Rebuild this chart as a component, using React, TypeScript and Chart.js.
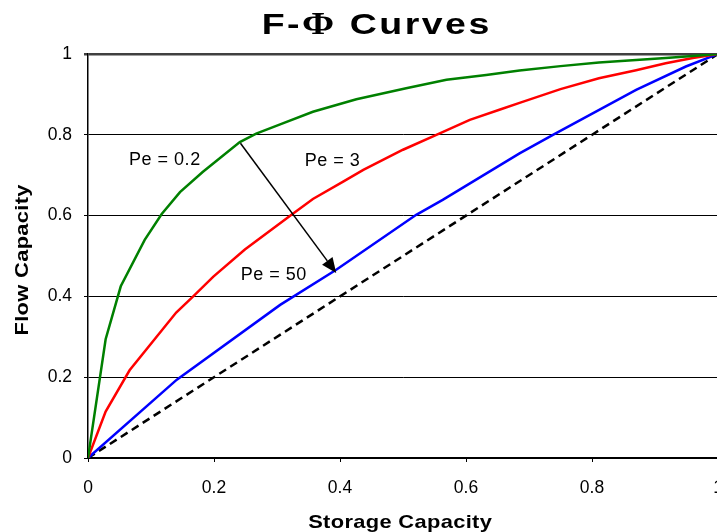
import React, { useEffect, useRef } from "react";
import { Chart, registerables } from "chart.js";
Chart.register(...registerables);

// ---- texts ----
const TITLE_PARTS = ["F-", "Φ", " Curves"];
const X_TITLE = "Storage Capacity";
const Y_TITLE = "Flow Capacity";
const TICK_VALUES = [0, 0.2, 0.4, 0.6, 0.8, 1];
const TICK_LABELS = ["0", "0.2", "0.4", "0.6", "0.8", "1"];

// ---- series (Storage capacity x, Flow capacity y) ----
const pe02X = [0, 0.028, 0.052, 0.09, 0.117, 0.146, 0.182, 0.241, 0.267, 0.305, 0.357, 0.426, 0.505, 0.569, 0.632, 0.685, 0.75, 0.811, 0.87, 0.917, 0.96, 1];
const pe02Y = [0, 0.294, 0.425, 0.54, 0.604, 0.658, 0.708, 0.782, 0.803, 0.826, 0.857, 0.888, 0.915, 0.936, 0.948, 0.959, 0.97, 0.979, 0.985, 0.99, 0.995, 1];

const pe3X = [0, 0.028, 0.066, 0.14, 0.167, 0.199, 0.249, 0.323, 0.357, 0.405, 0.437, 0.5, 0.553, 0.606, 0.653, 0.685, 0.75, 0.811, 0.87, 0.917, 0.96, 1];
const pe3Y = [0, 0.115, 0.217, 0.36, 0.4, 0.449, 0.516, 0.602, 0.641, 0.684, 0.713, 0.763, 0.8, 0.837, 0.862, 0.879, 0.913, 0.94, 0.96, 0.977, 0.99, 1];

const pe50X = [0, 0.141, 0.305, 0.394, 0.521, 0.563, 0.685, 0.738, 0.87, 0.949, 1];
const pe50Y = [0, 0.194, 0.379, 0.466, 0.602, 0.639, 0.754, 0.8, 0.911, 0.969, 1];

const refX = [0, 1];
const refY = [0, 1];

// ---- annotations (data units) ----
const LABEL_TEXTS = ["Pe = 0.2", "Pe = 3", "Pe = 50"];
const LABEL_X = [0.122, 0.388, 0.295];
const LABEL_Y = [0.738, 0.736, 0.453];
const ARROW_FROM = [0.242, 0.779];
const ARROW_TO = [0.394, 0.458];

const SANS = "'Liberation Sans', Arial, sans-serif";
const SERIF = "'Liberation Serif', 'Times New Roman', serif";

const toXY = (xs: number[], ys: number[]) => xs.map((x, i) => ({ x, y: ys[i] }));

const decorPlugin = {
  id: "decor",
  afterDatasetsDraw(chart: any) {
    const { ctx, scales } = chart;
    const xs = scales.x;
    const ys = scales.y;
    ctx.save();
    // arrow
    const x0 = xs.getPixelForValue(ARROW_FROM[0]);
    const y0 = ys.getPixelForValue(ARROW_FROM[1]);
    const x1 = xs.getPixelForValue(ARROW_TO[0]);
    const y1 = ys.getPixelForValue(ARROW_TO[1]);
    const ang = Math.atan2(y1 - y0, x1 - x0);
    const headLen = 15;
    const headHalf = 6.5;
    const bx = x1 - headLen * Math.cos(ang);
    const by = y1 - headLen * Math.sin(ang);
    ctx.strokeStyle = "#000";
    ctx.lineWidth = 1.5;
    ctx.beginPath();
    ctx.moveTo(x0, y0);
    ctx.lineTo(bx, by);
    ctx.stroke();
    ctx.fillStyle = "#000";
    ctx.beginPath();
    ctx.moveTo(x1, y1);
    ctx.lineTo(bx + headHalf * Math.sin(ang), by - headHalf * Math.cos(ang));
    ctx.lineTo(bx - headHalf * Math.sin(ang), by + headHalf * Math.cos(ang));
    ctx.closePath();
    ctx.fill();

    // labels
    ctx.font = `18px ${SANS}`;
    (ctx as any).letterSpacing = "0.5px";
    ctx.textAlign = "center";
    ctx.textBaseline = "middle";
    LABEL_TEXTS.forEach((t, i) => {
      ctx.fillText(t, xs.getPixelForValue(LABEL_X[i]), ys.getPixelForValue(LABEL_Y[i]));
    });
    ctx.restore();
  },
  afterDraw(chart: any) {
    const { ctx } = chart;
    ctx.save();
    ctx.fillStyle = "#000";
    ctx.textBaseline = "alphabetic";
    ctx.textAlign = "left";

    // main title, mixed fonts
    const tFonts = [`bold 30px ${SANS}`, `bold 31px ${SERIF}`, `bold 30px ${SANS}`];
    const sp = 2;
    const sx = 1.25;
    (ctx as any).letterSpacing = `${sp}px`;
    const widths = TITLE_PARTS.map((p, i) => {
      ctx.font = tFonts[i];
      return ctx.measureText(p).width;
    });
    const total = widths.reduce((a, b) => a + b, 0) - sp;
    ctx.save();
    ctx.translate(375.5, 34);
    ctx.scale(sx, 1);
    let x = -total / 2;
    TITLE_PARTS.forEach((p, i) => {
      ctx.font = tFonts[i];
      ctx.fillText(p, x, 0);
      x += widths[i];
    });
    ctx.restore();

    // axis titles
    ctx.font = `bold 19px ${SANS}`;
    const asp = 0.3;
    const asx = 1.15;
    (ctx as any).letterSpacing = `${asp}px`;
    const wX = ctx.measureText(X_TITLE).width - asp;
    ctx.save();
    ctx.translate(400, 528);
    ctx.scale(asx, 1);
    ctx.fillText(X_TITLE, -wX / 2, 0);
    ctx.restore();

    const wY = ctx.measureText(Y_TITLE).width - asp;
    ctx.save();
    ctx.translate(28, 260);
    ctx.rotate(-Math.PI / 2);
    ctx.scale(asx, 1);
    ctx.fillText(Y_TITLE, -wY / 2, 0);
    ctx.restore();

    ctx.restore();
  },
};

export default function App() {
  const ref = useRef<HTMLCanvasElement | null>(null);
  useEffect(() => {
    if (!ref.current) return;
    const chart = new Chart(ref.current, {
      type: "line",
      data: {
        datasets: [
          { label: "Pe = 0.2", data: toXY(pe02X, pe02Y), borderColor: "#008000", borderWidth: 2.5, pointRadius: 0, fill: false, tension: 0 },
          { label: "Pe = 3", data: toXY(pe3X, pe3Y), borderColor: "#ff0000", borderWidth: 2.5, pointRadius: 0, fill: false, tension: 0 },
          { label: "Pe = 50", data: toXY(pe50X, pe50Y), borderColor: "#0000ff", borderWidth: 2.5, pointRadius: 0, fill: false, tension: 0 },
          { label: "Reference", data: toXY(refX, refY), borderColor: "#000000", borderWidth: 2.5, borderDash: [8, 5], pointRadius: 0, fill: false, tension: 0 },
        ],
      },
      options: {
        animation: false,
        responsive: false,
        devicePixelRatio: 1,
        layout: { padding: { top: 54, right: 42, bottom: 0, left: 0 } },
        plugins: { legend: { display: false }, tooltip: { enabled: false }, title: { display: false } },
        scales: {
          x: {
            type: "linear",
            min: 0,
            max: 1,
            afterFit: (s: any) => { s.height = 74; },
            afterBuildTicks: (s: any) => { s.ticks = TICK_VALUES.map((v) => ({ value: v })); },
            ticks: {
              color: "#000",
              padding: 16,
              maxRotation: 0,
              font: { family: SANS, size: 17.5 },
              callback: (v: any) => TICK_LABELS[TICK_VALUES.indexOf(Number(v))] ?? "",
            },
            grid: { drawOnChartArea: false, drawTicks: true, tickLength: 4, color: "#000", lineWidth: 1 },
            border: { color: "#000", width: 2 },
          },
          y: {
            type: "linear",
            min: 0,
            max: 1,
            afterFit: (s: any) => { s.width = 88; },
            afterBuildTicks: (s: any) => { s.ticks = TICK_VALUES.map((v) => ({ value: v })); },
            ticks: {
              color: "#000",
              padding: 12,
              font: { family: SANS, size: 17.5 },
              callback: (v: any) => TICK_LABELS[TICK_VALUES.indexOf(Number(v))] ?? "",
            },
            grid: {
              drawTicks: true,
              tickLength: 4,
              color: (c: any) => (c.tick && c.tick.value === 1 ? "#404040" : "#000"),
              lineWidth: (c: any) => (c.tick && c.tick.value === 1 ? 2.5 : 1),
            },
            border: { color: "#000", width: 1.5 },
          },
        },
      },
      plugins: [decorPlugin],
    } as any);
    return () => chart.destroy();
  }, []);

  return (
    <div style={{ position: "fixed", left: 0, top: 0, width: 717, height: 532, overflow: "hidden", background: "#fff" }}>
      <canvas ref={ref} width={760} height={532} style={{ display: "block", position: "absolute", left: 0, top: 0 }} />
    </div>
  );
}
